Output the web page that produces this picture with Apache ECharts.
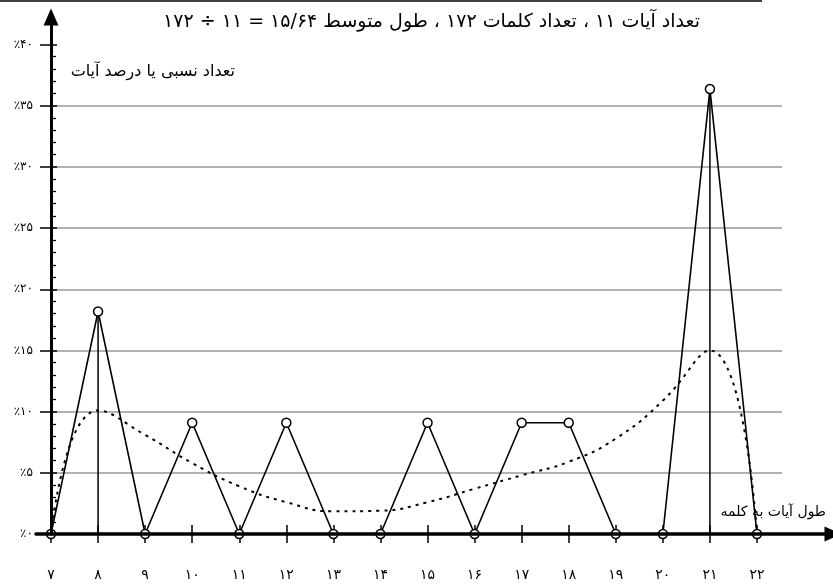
<!DOCTYPE html>
<html lang="fa">
<head>
<meta charset="utf-8">
<script src="https://cdn.jsdelivr.net/npm/echarts@6/dist/echarts.min.js"></script>
<style>
  html, body { margin: 0; padding: 0; background: #fff; }
  #chart { width: 833px; height: 586px; }
</style>
</head>
<body>
<div id="chart"></div>
<script>
// طول آیه به کلمه
const lengths = ['7', '8', '9', '10', '11', '12', '13', '14', '15', '16', '17', '18', '19', '20', '21', '22'];
// درصد آیات برای هر طول
const percents = [0, 18.18, 0, 9.09, 0, 9.09, 0, 0, 9.09, 0, 9.09, 9.09, 0, 0, 36.36, 0];
// منحنی هموار (نقطه چین)
const trend = [0, 10.1, 8.1, 5.8, 3.9, 2.6, 1.85, 1.9, 2.6, 3.7, 4.8, 5.9, 7.8, 10.9, 15.0, 0];
// طول‌هایی که خط عمودی دارند
const peaks = ['8', '21'];

const titleText = 'تعداد آیات ۱۱ ، تعداد کلمات ۱۷۲ ، طول متوسط ۱۵/۶۴ = ۱۱ ÷ ۱۷۲';
const yName = 'تعداد نسبی یا درصد آیات';
const xName = 'طول آیات به کلمه';

const FONT = '"DejaVu Sans", sans-serif';
const faDigits = '۰۱۲۳۴۵۶۷۸۹';
const toFa = s => String(s).replace(/\d/g, d => faDigits[d]);

const dropData = lengths.map((c, i) => peaks.includes(c) ? percents[i] : '-');
// no gridline on 0 and 40
const gridColors = [0, 5, 10, 15, 20, 25, 30, 35, 40].map(v => (v === 0 || v === 40) ? 'rgba(0,0,0,0)' : '#999');

const chart = echarts.init(document.getElementById('chart'));
const black = { color: '#000', width: 1.5 };

const option = {
  animation: false,
  backgroundColor: '#fff',
  grid: [
    { left: 51, right: 76, top: 44.5, bottom: 52 },
    { left: 51, right: 51, top: 44.5, bottom: 52 },
    { left: 51, right: 700, top: 17, bottom: 52 },
    { left: 36, right: 0, top: 44.5, bottom: 52 }
  ],
  xAxis: [
    {
      gridIndex: 0, type: 'category', data: lengths, boundaryGap: false, position: 'bottom',
      axisLine: { show: false, onZero: false },
      axisTick: { show: true, interval: 0, length: 9, lineStyle: black },
      axisLabel: { interval: 0, margin: 34, color: '#000', fontSize: 14, fontFamily: FONT, formatter: v => toFa(v) },
      splitLine: { show: false }
    },
    {
      gridIndex: 0, type: 'category', data: lengths, boundaryGap: false, position: 'bottom',
      axisLine: { show: false, onZero: false },
      axisTick: { show: true, interval: 0, inside: true, length: 9, lineStyle: black },
      axisLabel: { show: false },
      splitLine: { show: false }
    },
    { gridIndex: 1, type: 'value', min: 0, max: 1, show: false },
    { gridIndex: 2, type: 'value', min: 0, max: 1, show: false },
    {
      gridIndex: 3, type: 'value', min: 0, max: 1, position: 'bottom', z: 5,
      axisLine: { show: true, onZero: false, lineStyle: { color: '#000', width: 3.5 }, symbol: ['none', 'triangle'], symbolSize: [15, 17] },
      axisTick: { show: false }, axisLabel: { show: false }, splitLine: { show: false }
    }
  ],
  yAxis: [
    {
      gridIndex: 0, type: 'value', min: 0, max: 40, interval: 5, position: 'left',
      axisLine: { show: false, onZero: false },
      axisTick: { show: true, inside: true, length: 6, lineStyle: black },
      minorTick: { show: true, splitNumber: 5, length: 5, lineStyle: { color: '#000', width: 1.3 } },
      axisLabel: { margin: 18, color: '#000', fontSize: 12, fontFamily: FONT, formatter: v => '٪' + toFa(v) },
      splitLine: { show: false }
    },
    {
      gridIndex: 0, type: 'value', min: 0, max: 40, interval: 5, position: 'left',
      axisLine: { show: false, onZero: false },
      axisTick: { show: true, length: 11, lineStyle: black },
      axisLabel: { show: false }, splitLine: { show: false }
    },
    {
      gridIndex: 1, type: 'value', min: 0, max: 40, interval: 5,
      axisLine: { show: false }, axisTick: { show: false }, axisLabel: { show: false },
      splitLine: { show: true, lineStyle: { color: gridColors, width: 1.5 } }
    },
    {
      gridIndex: 2, type: 'value', min: 0, max: 1, position: 'left', z: 5,
      axisLine: { show: true, onZero: false, lineStyle: { color: '#000', width: 3 }, symbol: ['none', 'triangle'], symbolSize: [15, 17] },
      axisTick: { show: false }, axisLabel: { show: false }, splitLine: { show: false }
    },
    { gridIndex: 3, type: 'value', min: 0, max: 1, show: false }
  ],
  title: {
    text: titleText, right: 128, top: 8,
    textStyle: { color: '#000', fontSize: 19, fontWeight: 'normal', fontFamily: FONT }
  },
  graphic: [
    { type: 'line', shape: { x1: 0, y1: 1, x2: 762, y2: 1 }, style: { stroke: '#000', lineWidth: 1.5 } },
    { type: 'text', x: 235, y: 72, style: { text: yName, fill: '#000', font: '16px ' + FONT, align: 'right', verticalAlign: 'middle' } },
    { type: 'text', x: 826, y: 512, style: { text: xName, fill: '#000', font: '14px ' + FONT, align: 'right', verticalAlign: 'middle' } }
  ],
  series: [
    {
      name: 'drop', type: 'bar', xAxisIndex: 0, yAxisIndex: 0, data: dropData,
      barWidth: 1.5, itemStyle: { color: '#000' }, silent: true, z: 1
    },
    {
      name: 'trend', type: 'line', xAxisIndex: 0, yAxisIndex: 0, data: trend,
      smooth: 0.5, showSymbol: false, symbol: 'none',
      lineStyle: { color: '#000', width: 2, type: [3, 5] }, silent: true, z: 2
    },
    {
      name: 'percent', type: 'line', xAxisIndex: 0, yAxisIndex: 0, data: percents,
      symbol: 'circle', symbolSize: 9, showSymbol: true, showAllSymbol: true,
      lineStyle: { color: '#000', width: 1.6 },
      itemStyle: { color: '#fff', borderColor: '#000', borderWidth: 1.5 },
      silent: true, z: 3
    }
  ]
};
chart.setOption(option);
</script>
</body>
</html>
